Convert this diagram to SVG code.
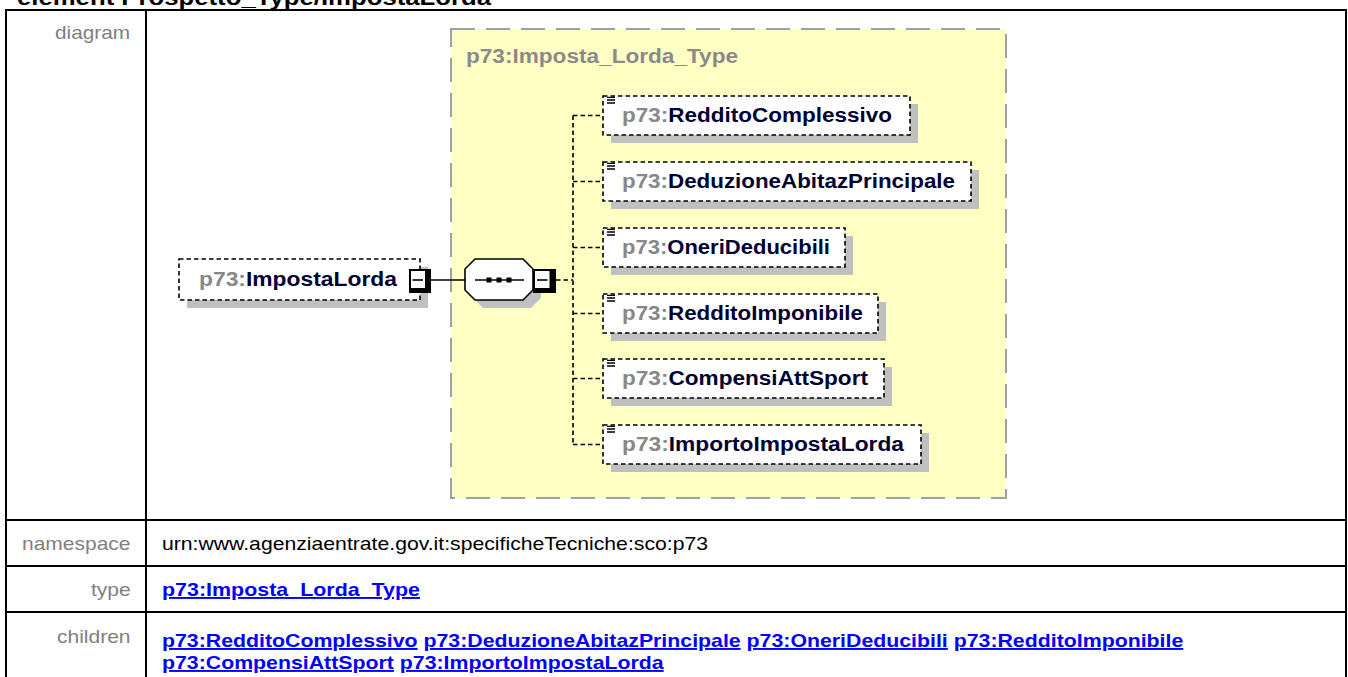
<svg xmlns="http://www.w3.org/2000/svg" width="1348" height="677" viewBox="0 0 1348 677">
<style>
.tbl{fill:none;stroke:#000;stroke-width:2}
.lbl{font-family:"Liberation Sans",Arial,sans-serif;font-size:19px;fill:#808080}
.val{font-family:"Liberation Sans",Arial,sans-serif;font-size:19px;fill:#000}
.link{font-family:"Liberation Sans",Arial,sans-serif;font-size:19px;font-weight:bold;fill:#0000ff;text-decoration:underline}
.head{font-family:"Liberation Sans",Arial,sans-serif;font-size:22px;font-weight:bold;fill:#000}
.dt{font-family:"Liberation Sans",Arial,sans-serif;font-size:19.5px;font-weight:bold}
.pfx{fill:#888}
.nm{fill:#000033}
.title{fill:#8a8a8a}
.shadow{fill:#c0c0c0}
.box{fill:#fff;stroke:#000;stroke-width:1.6;stroke-dasharray:4.5 3}
.conn{fill:none;stroke:#000;stroke-width:1.6;stroke-dasharray:4.5 3}
.solid{fill:none;stroke:#000;stroke-width:1.6}
.icon{stroke:#000;stroke-width:1.3}
</style>

<text class="head" x="17" y="5" textLength="474" lengthAdjust="spacingAndGlyphs">element Prospetto_Type/ImpostaLorda</text>

<g id="table">
  <rect class="tbl" x="6" y="10" width="1340" height="680"/>
  <line class="tbl" x1="146" y1="10" x2="146" y2="677"/>
  <line class="tbl" x1="6" y1="520" x2="1346" y2="520"/>
  <line class="tbl" x1="6" y1="566" x2="1346" y2="566"/>
  <line class="tbl" x1="6" y1="612" x2="1346" y2="612"/>
  <text class="lbl" x="55" y="39" textLength="75" lengthAdjust="spacingAndGlyphs">diagram</text>
  <text class="lbl" x="22" y="550" textLength="108.5" lengthAdjust="spacingAndGlyphs">namespace</text>
  <text class="lbl" x="91" y="596" textLength="39.7" lengthAdjust="spacingAndGlyphs">type</text>
  <text class="lbl" x="57" y="643" textLength="73.5" lengthAdjust="spacingAndGlyphs">children</text>
  <text class="val" x="162" y="550" textLength="546" lengthAdjust="spacingAndGlyphs">urn:www.agenziaentrate.gov.it:specificheTecniche:sco:p73</text>
  <text class="link" x="162" y="596" textLength="258" lengthAdjust="spacingAndGlyphs">p73:Imposta_Lorda_Type</text>
  <text class="link" x="162" y="647" textLength="255.6" lengthAdjust="spacingAndGlyphs">p73:RedditoComplessivo</text>
  <text class="link" x="423.5" y="647" textLength="317.2" lengthAdjust="spacingAndGlyphs">p73:DeduzioneAbitazPrincipale</text>
  <text class="link" x="746.6" y="647" textLength="201.2" lengthAdjust="spacingAndGlyphs">p73:OneriDeducibili</text>
  <text class="link" x="953.7" y="647" textLength="229.6" lengthAdjust="spacingAndGlyphs">p73:RedditoImponibile</text>
  <text class="link" x="162" y="669" textLength="231.9" lengthAdjust="spacingAndGlyphs">p73:CompensiAttSport</text>
  <text class="link" x="399.8" y="669" textLength="263.9" lengthAdjust="spacingAndGlyphs">p73:ImportoImpostaLorda</text>
</g>

<g id="typeBox">
  <rect x="451" y="29" width="555" height="469" fill="#ffffc4" stroke="#a0a0a0" stroke-width="2" stroke-dasharray="24 11"/>
  <text class="dt title" x="466" y="63" textLength="272" lengthAdjust="spacingAndGlyphs">p73:Imposta_Lorda_Type</text>
</g>

<g id="connectors">
  <line class="solid" x1="431" y1="280" x2="465" y2="280"/>
  <line class="conn" x1="556" y1="280" x2="573" y2="280"/>
  <line class="conn" x1="573" y1="115.5" x2="573" y2="444.5"/>
  <line class="conn" x1="573" y1="115.5" x2="603" y2="115.5"/>
  <line class="conn" x1="573" y1="181.5" x2="603" y2="181.5"/>
  <line class="conn" x1="573" y1="247.5" x2="603" y2="247.5"/>
  <line class="conn" x1="573" y1="313.5" x2="603" y2="313.5"/>
  <line class="conn" x1="573" y1="378.5" x2="603" y2="378.5"/>
  <line class="conn" x1="573" y1="444.5" x2="603" y2="444.5"/>
</g>

<g id="ImpostaLorda">
  <rect class="shadow" x="187" y="267" width="241" height="41"/>
  <rect class="box" x="179" y="259" width="241" height="41"/>
  <text class="dt" x="199" y="286" textLength="198" lengthAdjust="spacingAndGlyphs"><tspan class="pfx">p73:</tspan><tspan class="nm">ImpostaLorda</tspan></text>
  <rect x="409" y="269" width="22" height="24" fill="#000"/>
  <rect x="411" y="271" width="14" height="17" fill="#fff"/>
  <line class="solid" x1="412.5" y1="280" x2="423" y2="280"/>
</g>

<g id="sequence">
  <polygon class="shadow" points="483,267 531,267 541,277 541,298 531,308 483,308 473,298 473,277"/>
  <polygon fill="#fff" stroke="#000" stroke-width="1.6" points="475,259 523,259 533,269 533,290 523,300 475,300 465,290 465,269"/>
  <line class="solid" x1="475" y1="280" x2="524" y2="280"/>
  <rect x="486.5" y="277.5" width="5" height="5" fill="#000"/>
  <rect x="496.5" y="277.5" width="5" height="5" fill="#000"/>
  <rect x="506.5" y="277.5" width="5" height="5" fill="#000"/>
  <rect x="533" y="269" width="23" height="24" fill="#000"/>
  <rect x="535" y="271" width="14.5" height="17" fill="#fff"/>
  <line class="solid" x1="537" y1="280" x2="547.5" y2="280"/>
</g>

<g id="RedditoComplessivo">
  <rect class="shadow" x="611" y="104" width="307" height="39"/>
  <rect class="box" x="603" y="96" width="307" height="39"/>
  <path class="icon" d="M607 97.3h8M607 100h8M607 103h8"/>
  <text class="dt" x="622" y="122" textLength="270" lengthAdjust="spacingAndGlyphs"><tspan class="pfx">p73:</tspan><tspan class="nm">RedditoComplessivo</tspan></text>
</g>

<g id="DeduzioneAbitazPrincipale">
  <rect class="shadow" x="611" y="170" width="368" height="39"/>
  <rect class="box" x="603" y="162" width="368" height="39"/>
  <path class="icon" d="M607 163.3h8M607 166h8M607 169h8"/>
  <text class="dt" x="622" y="188" textLength="333" lengthAdjust="spacingAndGlyphs"><tspan class="pfx">p73:</tspan><tspan class="nm">DeduzioneAbitazPrincipale</tspan></text>
</g>

<g id="OneriDeducibili">
  <rect class="shadow" x="611" y="236" width="242" height="39"/>
  <rect class="box" x="603" y="228" width="242" height="39"/>
  <path class="icon" d="M607 229.3h8M607 232h8M607 235h8"/>
  <text class="dt" x="622" y="254" textLength="208" lengthAdjust="spacingAndGlyphs"><tspan class="pfx">p73:</tspan><tspan class="nm">OneriDeducibili</tspan></text>
</g>

<g id="RedditoImponibile">
  <rect class="shadow" x="611" y="302" width="275" height="39"/>
  <rect class="box" x="603" y="294" width="275" height="39"/>
  <path class="icon" d="M607 295.3h8M607 298h8M607 301h8"/>
  <text class="dt" x="622" y="320" textLength="241" lengthAdjust="spacingAndGlyphs"><tspan class="pfx">p73:</tspan><tspan class="nm">RedditoImponibile</tspan></text>
</g>

<g id="CompensiAttSport">
  <rect class="shadow" x="611" y="367" width="281" height="39"/>
  <rect class="box" x="603" y="359" width="281" height="39"/>
  <path class="icon" d="M607 360.3h8M607 363h8M607 366h8"/>
  <text class="dt" x="622" y="385" textLength="246" lengthAdjust="spacingAndGlyphs"><tspan class="pfx">p73:</tspan><tspan class="nm">CompensiAttSport</tspan></text>
</g>

<g id="ImportoImpostaLorda">
  <rect class="shadow" x="611" y="433" width="318" height="39"/>
  <rect class="box" x="603" y="425" width="318" height="39"/>
  <path class="icon" d="M607 426.3h8M607 429h8M607 432h8"/>
  <text class="dt" x="622" y="451" textLength="282" lengthAdjust="spacingAndGlyphs"><tspan class="pfx">p73:</tspan><tspan class="nm">ImportoImpostaLorda</tspan></text>
</g>
</svg>
